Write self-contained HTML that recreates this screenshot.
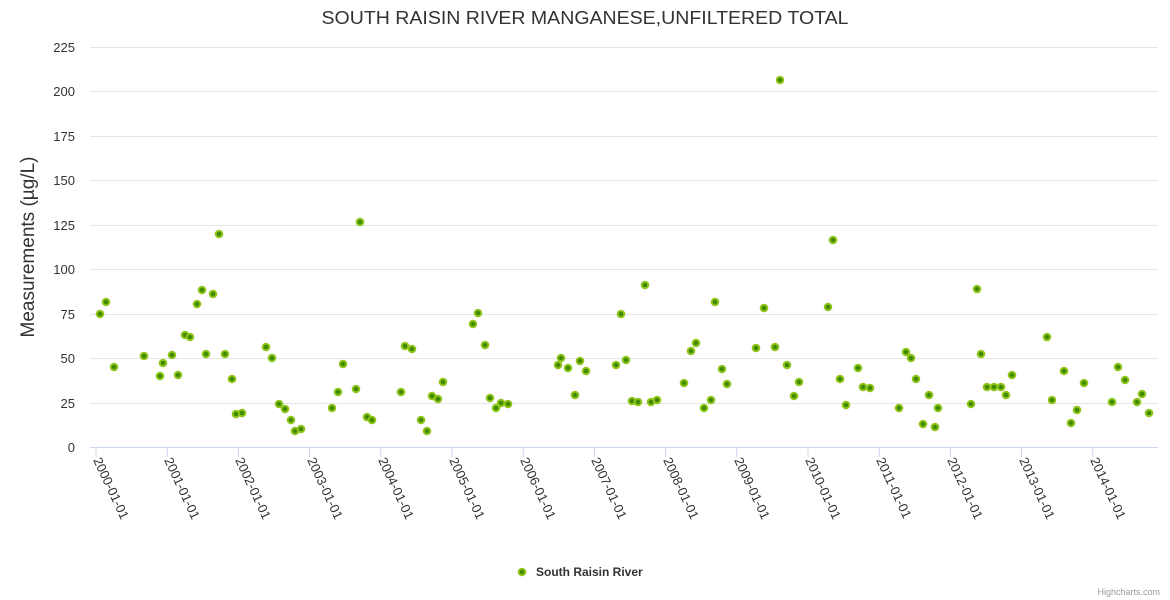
<!DOCTYPE html>
<html><head><meta charset="utf-8"><style>
html,body{margin:0;padding:0;background:#fff;}
svg{display:block;font-family:"Liberation Sans",sans-serif;}
</style></head><body>
<svg width="1170" height="600" xmlns="http://www.w3.org/2000/svg">
<rect width="1170" height="600" fill="#fff"/>
<text x="585" y="24" text-anchor="middle" font-size="18" fill="#333" textLength="527" lengthAdjust="spacingAndGlyphs">SOUTH RAISIN RIVER MANGANESE,UNFILTERED TOTAL</text>
<g stroke="#e6e6e6" stroke-width="1">
<line x1="90" x2="1158" y1="47.5" y2="47.5"/><line x1="90" x2="1158" y1="91.5" y2="91.5"/>
<line x1="90" x2="1158" y1="136.5" y2="136.5"/><line x1="90" x2="1158" y1="180.5" y2="180.5"/>
<line x1="90" x2="1158" y1="225.5" y2="225.5"/><line x1="90" x2="1158" y1="269.5" y2="269.5"/>
<line x1="90" x2="1158" y1="314.5" y2="314.5"/><line x1="90" x2="1158" y1="358.5" y2="358.5"/>
<line x1="90" x2="1158" y1="403.5" y2="403.5"/>
</g>
<line x1="90" x2="1158" y1="447.5" y2="447.5" stroke="#ccd6eb"/>
<g fill="#333" font-size="13" text-anchor="end">
<text x="75" y="52">225</text><text x="75" y="96">200</text><text x="75" y="141">175</text>
<text x="75" y="185">150</text><text x="75" y="230">125</text><text x="75" y="274">100</text>
<text x="75" y="319">75</text><text x="75" y="363">50</text><text x="75" y="408">25</text><text x="75" y="452">0</text>
</g>
<text transform="translate(34,247) rotate(-90)" text-anchor="middle" font-size="19" fill="#333">Measurements (µg/L)</text>
<g stroke="#ccd6eb">
<line x1="96" x2="96" y1="447" y2="457"/><line x1="167.2" x2="167.2" y1="447" y2="457"/><line x1="238.4" x2="238.4" y1="447" y2="457"/><line x1="309.6" x2="309.6" y1="447" y2="457"/><line x1="380.8" x2="380.8" y1="447" y2="457"/><line x1="452" x2="452" y1="447" y2="457"/><line x1="523.2" x2="523.2" y1="447" y2="457"/><line x1="594.4" x2="594.4" y1="447" y2="457"/><line x1="665.6" x2="665.6" y1="447" y2="457"/><line x1="736.8" x2="736.8" y1="447" y2="457"/><line x1="808" x2="808" y1="447" y2="457"/><line x1="879.2" x2="879.2" y1="447" y2="457"/><line x1="950.4" x2="950.4" y1="447" y2="457"/><line x1="1021.6" x2="1021.6" y1="447" y2="457"/><line x1="1092.8" x2="1092.8" y1="447" y2="457"/>
</g>
<g fill="#333" font-size="13">
<text transform="translate(93,460) rotate(65)">2000-01-01</text>
<text transform="translate(164,460) rotate(65)">2001-01-01</text>
<text transform="translate(235,460) rotate(65)">2002-01-01</text>
<text transform="translate(307,460) rotate(65)">2003-01-01</text>
<text transform="translate(378,460) rotate(65)">2004-01-01</text>
<text transform="translate(449,460) rotate(65)">2005-01-01</text>
<text transform="translate(520,460) rotate(65)">2006-01-01</text>
<text transform="translate(591,460) rotate(65)">2007-01-01</text>
<text transform="translate(663,460) rotate(65)">2008-01-01</text>
<text transform="translate(734,460) rotate(65)">2009-01-01</text>
<text transform="translate(805,460) rotate(65)">2010-01-01</text>
<text transform="translate(876,460) rotate(65)">2011-01-01</text>
<text transform="translate(947,460) rotate(65)">2012-01-01</text>
<text transform="translate(1019,460) rotate(65)">2013-01-01</text>
<text transform="translate(1090,460) rotate(65)">2014-01-01</text>
</g>
<g id="pts" fill="#3f8a00" stroke="#8fc41a" stroke-width="2">
<circle cx="100" cy="314" r="3.3"/><circle cx="106" cy="302" r="3.3"/><circle cx="114" cy="367" r="3.3"/><circle cx="144" cy="356" r="3.3"/><circle cx="160" cy="376" r="3.3"/><circle cx="163" cy="363" r="3.3"/><circle cx="172" cy="355" r="3.3"/><circle cx="178" cy="375" r="3.3"/><circle cx="185" cy="335" r="3.3"/><circle cx="190" cy="337" r="3.3"/><circle cx="197" cy="304" r="3.3"/><circle cx="202" cy="290" r="3.3"/><circle cx="206" cy="354" r="3.3"/><circle cx="213" cy="294" r="3.3"/><circle cx="219" cy="234" r="3.3"/><circle cx="225" cy="354" r="3.3"/><circle cx="232" cy="379" r="3.3"/><circle cx="236" cy="414" r="3.3"/><circle cx="242" cy="413" r="3.3"/><circle cx="266" cy="347" r="3.3"/><circle cx="272" cy="358" r="3.3"/><circle cx="279" cy="404" r="3.3"/><circle cx="285" cy="409" r="3.3"/><circle cx="291" cy="420" r="3.3"/><circle cx="295" cy="431" r="3.3"/><circle cx="301" cy="429" r="3.3"/><circle cx="332" cy="408" r="3.3"/><circle cx="338" cy="392" r="3.3"/><circle cx="343" cy="364" r="3.3"/><circle cx="356" cy="389" r="3.3"/><circle cx="360" cy="222" r="3.3"/><circle cx="367" cy="417" r="3.3"/><circle cx="372" cy="420" r="3.3"/><circle cx="401" cy="392" r="3.3"/><circle cx="405" cy="346" r="3.3"/><circle cx="412" cy="349" r="3.3"/><circle cx="421" cy="420" r="3.3"/><circle cx="427" cy="431" r="3.3"/><circle cx="432" cy="396" r="3.3"/><circle cx="438" cy="399" r="3.3"/><circle cx="443" cy="382" r="3.3"/><circle cx="473" cy="324" r="3.3"/><circle cx="478" cy="313" r="3.3"/><circle cx="485" cy="345" r="3.3"/><circle cx="490" cy="398" r="3.3"/><circle cx="496" cy="408" r="3.3"/><circle cx="501" cy="403" r="3.3"/><circle cx="508" cy="404" r="3.3"/><circle cx="558" cy="365" r="3.3"/><circle cx="561" cy="358" r="3.3"/><circle cx="568" cy="368" r="3.3"/><circle cx="575" cy="395" r="3.3"/><circle cx="580" cy="361" r="3.3"/><circle cx="586" cy="371" r="3.3"/><circle cx="616" cy="365" r="3.3"/><circle cx="621" cy="314" r="3.3"/><circle cx="626" cy="360" r="3.3"/><circle cx="632" cy="401" r="3.3"/><circle cx="638" cy="402" r="3.3"/><circle cx="645" cy="285" r="3.3"/><circle cx="651" cy="402" r="3.3"/><circle cx="657" cy="400" r="3.3"/><circle cx="684" cy="383" r="3.3"/><circle cx="691" cy="351" r="3.3"/><circle cx="696" cy="343" r="3.3"/><circle cx="704" cy="408" r="3.3"/><circle cx="711" cy="400" r="3.3"/><circle cx="715" cy="302" r="3.3"/><circle cx="722" cy="369" r="3.3"/><circle cx="727" cy="384" r="3.3"/><circle cx="756" cy="348" r="3.3"/><circle cx="764" cy="308" r="3.3"/><circle cx="775" cy="347" r="3.3"/><circle cx="780" cy="80" r="3.3"/><circle cx="787" cy="365" r="3.3"/><circle cx="794" cy="396" r="3.3"/><circle cx="799" cy="382" r="3.3"/><circle cx="828" cy="307" r="3.3"/><circle cx="833" cy="240" r="3.3"/><circle cx="840" cy="379" r="3.3"/><circle cx="846" cy="405" r="3.3"/><circle cx="858" cy="368" r="3.3"/><circle cx="863" cy="387" r="3.3"/><circle cx="870" cy="388" r="3.3"/><circle cx="899" cy="408" r="3.3"/><circle cx="906" cy="352" r="3.3"/><circle cx="911" cy="358" r="3.3"/><circle cx="916" cy="379" r="3.3"/><circle cx="923" cy="424" r="3.3"/><circle cx="929" cy="395" r="3.3"/><circle cx="935" cy="427" r="3.3"/><circle cx="938" cy="408" r="3.3"/><circle cx="971" cy="404" r="3.3"/><circle cx="977" cy="289" r="3.3"/><circle cx="981" cy="354" r="3.3"/><circle cx="987" cy="387" r="3.3"/><circle cx="994" cy="387" r="3.3"/><circle cx="1001" cy="387" r="3.3"/><circle cx="1006" cy="395" r="3.3"/><circle cx="1012" cy="375" r="3.3"/><circle cx="1047" cy="337" r="3.3"/><circle cx="1052" cy="400" r="3.3"/><circle cx="1064" cy="371" r="3.3"/><circle cx="1071" cy="423" r="3.3"/><circle cx="1077" cy="410" r="3.3"/><circle cx="1084" cy="383" r="3.3"/><circle cx="1112" cy="402" r="3.3"/><circle cx="1118" cy="367" r="3.3"/><circle cx="1125" cy="380" r="3.3"/><circle cx="1137" cy="402" r="3.3"/><circle cx="1142" cy="394" r="3.3"/><circle cx="1149" cy="413" r="3.3"/>
</g>
<circle cx="522" cy="572" r="3.3" fill="#3f8a00" stroke="#8fc41a" stroke-width="2"/>
<text x="536" y="576" font-size="12" font-weight="bold" fill="#333">South Raisin River</text>
<text x="1160" y="595" text-anchor="end" font-size="9" fill="#999">Highcharts.com</text>
</svg>
</body></html>
